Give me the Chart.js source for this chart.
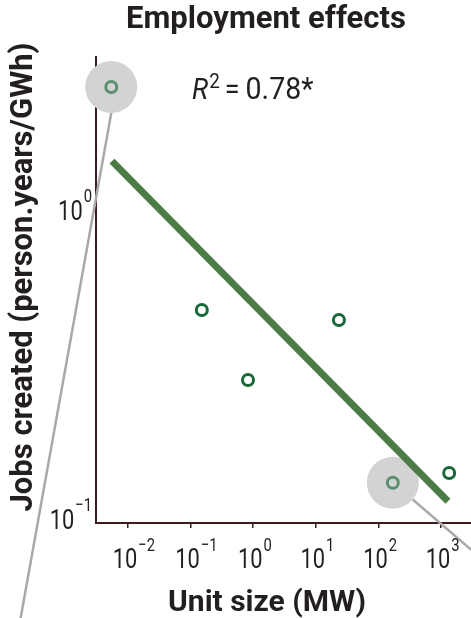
<!DOCTYPE html>
<html>
<head>
<meta charset="utf-8">
<script src="https://cdn.jsdelivr.net/npm/chart.js@4.4.1/dist/chart.umd.min.js"></script>
<style>
  html, body { margin: 0; padding: 0; background: #fff; }
  #wrap { width: 471px; height: 618px; }
</style>
</head>
<body>
<div id="wrap"><canvas id="employmentChart"></canvas></div>
<script>
const FONT = "'Roboto', 'Liberation Sans', sans-serif";
const INK = '#231f20';
const AXIS = '#3a1c1c';

// unit size (MW) and jobs created (person.years/GWh) for each technology
const unitSize = [0.0054, 0.151, 0.826, 23.4, 170, 1350];
const jobsCreated = [2.52, 0.478, 0.284, 0.444, 0.132, 0.142];
// technologies called out with a grey halo
const calloutIndex = [0, 4];

// log-log regression line
const fitUnitSize = [0.00555, 1290];
const fitJobs = [1.45, 0.115];
const rSquared = '0.78*';

// axis ranges and decade ticks
const xRange = [0.00308, 3013];
const yRange = [0.0978, 3.15];
const xTickExponents = [-2, -1, 0, 1, 2, 3];
const yTickExponents = [-1, 0];

const pointColors = unitSize.map((_, i) => calloutIndex.includes(i) ? '#5b8f6e' : '#17683a');

// where each grey leader line leaves its halo and which way it runs
const leaders = [
  { angle: Math.PI / 2, dx: -89, dy: 496 },
  { angle: 0.70, dx: 78, dy: 67 }
];

function supText(exp) {
  return exp < 0 ? '\u2212' + Math.abs(exp) : String(exp);
}

// text squeezed sideways to look like a condensed face; returns drawn width
function narrowText(ctx, text, x, y, font, sx) {
  ctx.font = font;
  const w = ctx.measureText(text).width * sx;
  ctx.save();
  ctx.translate(x, y);
  ctx.scale(sx, 1);
  ctx.fillText(text, 0, 0);
  ctx.restore();
  return w;
}

function narrowWidth(ctx, text, font, sx) {
  ctx.font = font;
  return ctx.measureText(text).width * sx;
}

const TICK_FONT = `28px ${FONT}`;
const SUP_FONT = `19px ${FONT}`;
const SQ = 0.78;

const decorations = {
  id: 'decorations',
  beforeDatasetsDraw(chart) {
    const ctx = chart.ctx;
    const halos = chart.getDatasetMeta(0).data;
    ctx.save();
    ctx.strokeStyle = '#a9a9a9';
    ctx.lineWidth = 2.5;
    halos.forEach((el, i) => {
      const lead = leaders[i];
      const r = el.options.radius;
      const sx = el.x + r * Math.cos(lead.angle);
      const sy = el.y + r * Math.sin(lead.angle);
      const len = Math.hypot(lead.dx, lead.dy);
      ctx.beginPath();
      ctx.moveTo(sx, sy);
      ctx.lineTo(sx + lead.dx / len * 800, sy + lead.dy / len * 800);
      ctx.stroke();
    });
    ctx.restore();
  },
  afterDraw(chart) {
    const ctx = chart.ctx;
    const xs = chart.scales.x;
    const ys = chart.scales.y;
    const area = chart.chartArea;
    ctx.save();
    ctx.fillStyle = INK;
    ctx.textBaseline = 'alphabetic';
    ctx.textAlign = 'left';

    // x tick labels, 10 with a raised exponent
    xs.ticks.forEach(t => {
      const exp = Math.round(Math.log10(t.value));
      const px = xs.getPixelForValue(t.value);
      const bw = narrowWidth(ctx, '10', TICK_FONT, SQ);
      const left = px - 3 - bw / 2;
      narrowText(ctx, '10', left, area.bottom + 45, TICK_FONT, SQ);
      narrowText(ctx, supText(exp), left + bw + 1, area.bottom + 28, SUP_FONT, SQ);
    });

    // y tick labels
    ys.ticks.forEach(t => {
      const exp = Math.round(Math.log10(t.value));
      const py = ys.getPixelForValue(t.value);
      const right = area.left - 4;
      const sw = narrowWidth(ctx, supText(exp), SUP_FONT, SQ);
      narrowText(ctx, supText(exp), right - sw, py - 9, SUP_FONT, SQ);
      const bw = narrowWidth(ctx, '10', TICK_FONT, SQ);
      narrowText(ctx, '10', right - sw - 1 - bw, py + 9, TICK_FONT, SQ);
    });

    // chart title and axis titles
    ctx.textAlign = 'center';
    ctx.font = `bold 31px ${FONT}`;
    ctx.fillText('Employment effects', 266, 28);
    ctx.font = `bold 30px ${FONT}`;
    ctx.fillText('Unit size (MW)', 267, 611);
    ctx.save();
    ctx.translate(32, 277);
    ctx.rotate(-Math.PI / 2);
    ctx.font = `bold 31px ${FONT}`;
    ctx.fillText('Jobs created (person.years/GWh)', 0, 0);
    ctx.restore();
    ctx.textAlign = 'left';

    // goodness of fit
    let x = area.left + 96;
    const base = area.top + 42;
    x += narrowText(ctx, 'R', x, base, `italic 30px ${FONT}`, 0.9) + 1;
    x += narrowText(ctx, '2', x, base - 11, `21px ${FONT}`, 0.9) + 5;
    x += narrowText(ctx, '=', x, base, `30px ${FONT}`, 0.9) + 6;
    narrowText(ctx, rSquared, x, base, `31px ${FONT}`, 0.92);
    ctx.restore();
  }
};

const ctx = document.getElementById('employmentChart').getContext('2d');
const employmentChart = new Chart(ctx, {
  data: {
    datasets: [
      {
        type: 'scatter',
        label: 'halo',
        data: calloutIndex.map(i => ({ x: unitSize[i], y: jobsCreated[i] })),
        pointRadius: 26,
        pointBackgroundColor: '#d3d3d3',
        pointBorderWidth: 0,
        clip: false,
        order: 3
      },
      {
        type: 'scatter',
        label: 'Jobs created',
        data: unitSize.map((u, i) => ({ x: u, y: jobsCreated[i] })),
        pointRadius: 5.5,
        pointBorderWidth: 3,
        pointBorderColor: pointColors,
        pointBackgroundColor: 'rgba(0,0,0,0)',
        clip: false,
        order: 2
      },
      {
        type: 'line',
        label: 'Fit',
        data: fitUnitSize.map((u, i) => ({ x: u, y: fitJobs[i] })),
        borderColor: '#4b7c45',
        borderWidth: 7,
        borderCapStyle: 'butt',
        pointRadius: 0,
        order: 1
      }
    ]
  },
  options: {
    responsive: true,
    maintainAspectRatio: false,
    animation: false,
    layout: { autoPadding: false, padding: { top: 57, left: 0, right: 0, bottom: 0 } },
    plugins: {
      legend: { display: false },
      tooltip: { enabled: false },
      title: { display: false }
    },
    scales: {
      x: {
        type: 'logarithmic',
        position: 'bottom',
        min: xRange[0],
        max: xRange[1],
        z: 1,
        afterBuildTicks: s => { s.ticks = xTickExponents.map(e => ({ value: Math.pow(10, e) })); },
        afterFit: s => { s.height = 95; },
        ticks: { display: false },
        grid: { drawOnChartArea: false, drawTicks: true, tickLength: 5, color: AXIS, lineWidth: 1.5 },
        border: { display: true, color: AXIS, width: 2 }
      },
      y: {
        type: 'logarithmic',
        position: 'left',
        min: yRange[0],
        max: yRange[1],
        z: 1,
        afterBuildTicks: s => { s.ticks = yTickExponents.map(e => ({ value: Math.pow(10, e) })); },
        afterFit: s => { s.width = 96; },
        ticks: { display: false },
        grid: { display: false },
        border: { display: true, color: AXIS, width: 2 }
      }
    }
  },
  plugins: [decorations]
});
</script>
</body>
</html>
